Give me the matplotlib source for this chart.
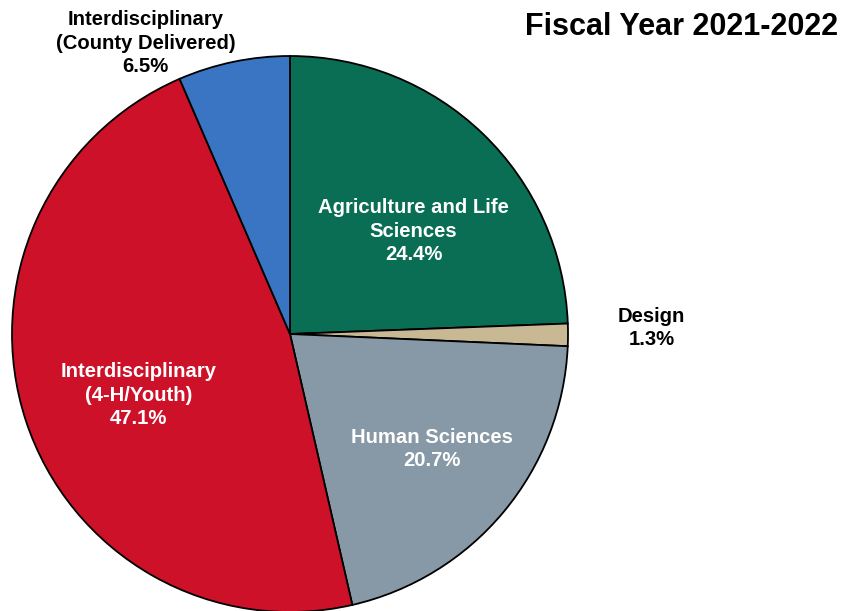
import matplotlib
matplotlib.use('Agg')
import matplotlib.pyplot as plt

plt.rcParams['font.family'] = ['Liberation Sans', 'DejaVu Sans']

LABELS = ['Agriculture and Life\nSciences', 'Design', 'Human Sciences',
          'Interdisciplinary\n(4-H/Youth)', 'Interdisciplinary\n(County Delivered)']
SHARES = [24.4, 1.3, 20.7, 47.1, 6.5]
COLORS = ['#0A6E55', '#C8B994', '#8799A6', '#CC1128', '#3A75C4']
TEXT_COLORS = ['white', 'black', 'white', 'white', 'black']
# label positions in pie units (radius = 1)
LABEL_POS = [(0.445, 0.37), (1.30, 0.022), (0.51, -0.413), (-0.545, -0.22), (-0.52, 1.045)]

W, H = 845, 611
fig = plt.figure(figsize=(W / 100, H / 100), dpi=100)
cx, cy, r = 290, 334, 278
ax = fig.add_axes([(cx - r) / W, (H - cy - r) / H, 2 * r / W, 2 * r / H])

ax.pie(SHARES, colors=COLORS, startangle=90, counterclock=False,
       wedgeprops=dict(edgecolor='black', linewidth=1.3))
ax.set_xlim(-1, 1)
ax.set_ylim(-1, 1)
ax.set_aspect('equal')

for lab, val, pos, tc in zip(LABELS, SHARES, LABEL_POS, TEXT_COLORS):
    ax.text(pos[0], pos[1], f'{lab}\n{val}%', ha='center', va='center',
            fontsize=14.6, fontweight='bold', color=tc, linespacing=1.3,
            clip_on=False)

fig.text(838 / W, 1 - 27 / H, 'Fiscal Year 2021-2022', ha='right', va='center',
         fontsize=22, fontweight='bold')

fig.savefig('out.png', dpi=100)
